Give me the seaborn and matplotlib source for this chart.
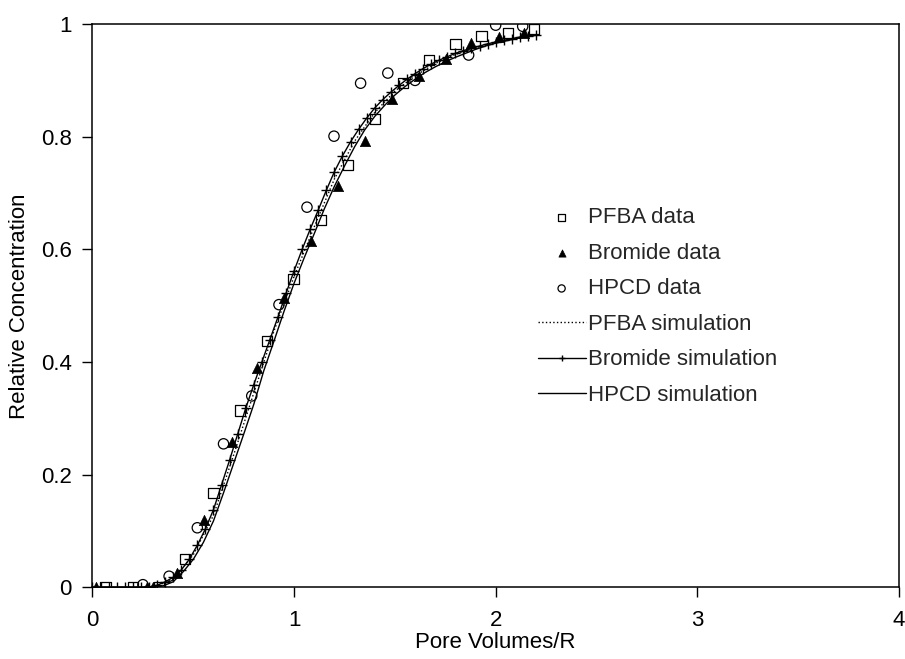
import matplotlib
matplotlib.use("Agg")
import matplotlib.pyplot as plt
import seaborn as sns

pfba_x = [0.065, 0.20, 0.33, 0.46, 0.60, 0.73, 0.865, 0.997, 1.134, 1.267, 1.40, 1.54, 1.668, 1.80, 1.93, 2.06, 2.19]
pfba_y = [0.0, 0.0, 0.0, 0.051, 0.168, 0.314, 0.438, 0.548, 0.652, 0.750, 0.832, 0.895, 0.936, 0.965, 0.979, 0.984, 0.991]

bromide_x = [0.015, 0.27, 0.30, 0.42, 0.555, 0.69, 0.817, 0.95, 1.084, 1.218, 1.35, 1.485, 1.62, 1.752, 1.88, 2.015, 2.14]
bromide_y = [0.0, 0.0, 0.0, 0.025, 0.119, 0.259, 0.390, 0.514, 0.615, 0.713, 0.793, 0.867, 0.908, 0.938, 0.966, 0.977, 0.984]

hpcd_x = [0.25, 0.38, 0.52, 0.65, 0.79, 0.925, 1.064, 1.198, 1.33, 1.465, 1.60, 1.866, 2.00, 2.134]
hpcd_y = [0.005, 0.020, 0.106, 0.255, 0.340, 0.502, 0.675, 0.801, 0.895, 0.913, 0.900, 0.945, 0.998, 0.996]

# simulations
pfba_sim_x = [0.0, 0.1, 0.2, 0.3, 0.4, 0.5, 0.6, 0.7, 0.8, 0.9, 1.0, 1.1, 1.2, 1.3, 1.4, 1.5,
              1.6, 1.7, 1.8, 1.9, 2.0, 2.1, 2.2]
pfba_sim_y = [0.0, 0.0, 0.0, 0.001, 0.014, 0.058, 0.128, 0.235, 0.345, 0.455, 0.552, 0.640, 0.725,
              0.792, 0.843, 0.881, 0.908, 0.930, 0.946, 0.958, 0.967, 0.975, 0.981]

bromide_sim_x = [0.00, 0.04, 0.08, 0.12, 0.16, 0.20, 0.24, 0.28, 0.32, 0.36, 0.40, 0.44, 0.48, 0.52,
                 0.56, 0.60, 0.64, 0.68, 0.72, 0.76, 0.80, 0.84, 0.88, 0.92, 0.96, 1.00, 1.04, 1.08,
                 1.12, 1.16, 1.20, 1.24, 1.28, 1.32, 1.36, 1.40, 1.44, 1.48, 1.52, 1.56, 1.60, 1.64,
                 1.68, 1.72, 1.76, 1.80, 1.84, 1.88, 1.92, 1.96, 2.00, 2.04, 2.08, 2.12, 2.16, 2.20]
bromide_sim_y = [0.0, 0.0, 0.0, 0.0, 0.0, 0.0, 0.0, 0.001, 0.004, 0.010, 0.018, 0.031, 0.050, 0.075,
                 0.104, 0.138, 0.182, 0.226, 0.272, 0.318, 0.360, 0.400, 0.440, 0.480, 0.522, 0.562,
                 0.600, 0.636, 0.670, 0.705, 0.738, 0.766, 0.791, 0.813, 0.833, 0.851, 0.866, 0.879,
                 0.891, 0.902, 0.912, 0.921, 0.929, 0.936, 0.942, 0.948, 0.953, 0.957, 0.961, 0.965,
                 0.968, 0.971, 0.974, 0.977, 0.979, 0.981]

hpcd_sim_x = [0.0, 0.1, 0.2, 0.30, 0.35, 0.40, 0.45, 0.50, 0.55, 0.60, 0.65, 0.70, 0.75, 0.80, 0.85,
              0.90, 0.95, 1.00, 1.05, 1.10, 1.15, 1.20, 1.25, 1.30, 1.35, 1.40, 1.45, 1.50, 1.55,
              1.60, 1.65, 1.70, 1.75, 1.80, 1.85, 1.90, 1.95, 2.00, 2.05, 2.10, 2.15, 2.20]
hpcd_sim_y = [0.0, 0.0, 0.0, 0.0, 0.003, 0.010, 0.028, 0.050, 0.080, 0.118, 0.168, 0.220, 0.272,
              0.325, 0.385, 0.437, 0.490, 0.540, 0.585, 0.628, 0.672, 0.712, 0.748, 0.782, 0.812,
              0.836, 0.856, 0.874, 0.889, 0.902, 0.914, 0.924, 0.933, 0.941, 0.948, 0.955, 0.961,
              0.966, 0.970, 0.974, 0.977, 0.980]

sns.set_theme(style="ticks")
plt.rcParams['font.family'] = ['Liberation Sans', 'DejaVu Sans']
fs = 16

fig = plt.figure(figsize=(9.05, 6.59), dpi=100)
ax = fig.add_axes([0.1022, 0.1085, 0.891, 0.855])

sns.scatterplot(x=pfba_x, y=pfba_y, ax=ax, marker='s', s=55, facecolor='none',
                edgecolor='black', linewidth=0.9, label='PFBA data', zorder=3)
sns.scatterplot(x=bromide_x, y=bromide_y, ax=ax, marker='^', s=55, color='black',
                edgecolor='black', linewidth=0.5, label='Bromide data', zorder=3)
sns.scatterplot(x=hpcd_x, y=hpcd_y, ax=ax, marker='o', s=55, facecolor='none',
                edgecolor='black', linewidth=0.9, label='HPCD data', zorder=3)

sns.lineplot(x=pfba_sim_x, y=pfba_sim_y, ax=ax, color='black', linestyle=':', linewidth=1.0,
             label='PFBA simulation', sort=False, estimator=None)
sns.lineplot(x=bromide_sim_x, y=bromide_sim_y, ax=ax, color='black', linestyle='-', linewidth=1.0,
             marker='+', markersize=7, markeredgewidth=1.0, markeredgecolor='black',
             label='Bromide simulation', sort=False, estimator=None)
sns.lineplot(x=hpcd_sim_x, y=hpcd_sim_y, ax=ax, color='black', linewidth=1.0,
             label='HPCD simulation', sort=False, estimator=None)

ax.set_xlim(0, 4)
ax.set_ylim(0, 1)
ax.set_xticks([0, 1, 2, 3, 4])
ax.set_yticks([0, 0.2, 0.4, 0.6, 0.8, 1.0])
ax.set_yticklabels(['0', '0.2', '0.4', '0.6', '0.8', '1'])
ax.set_xticklabels(['0', '1', '2', '3', '4'])
ax.tick_params(direction='out', length=7, width=1.0, colors='black', labelsize=fs)
ax.tick_params(axis='x', pad=9)
ax.tick_params(axis='y', pad=8)
for sp in ax.spines.values():
    sp.set_color('black')
    sp.set_linewidth(1.1)
    sp.set_visible(True)

ax.set_xlabel('Pore Volumes/R', fontsize=fs, color='black', labelpad=1)
ax.set_ylabel('Relative Concentration', fontsize=fs, color='black', labelpad=8)

ax.legend(loc='upper left', bbox_to_anchor=(0.552, 0.675), frameon=False, fontsize=fs,
          handlelength=2.16, handletextpad=0.1, labelspacing=0.655, borderpad=0,
          borderaxespad=0, markerscale=0.7)

fig.savefig('out.png', dpi=100)
